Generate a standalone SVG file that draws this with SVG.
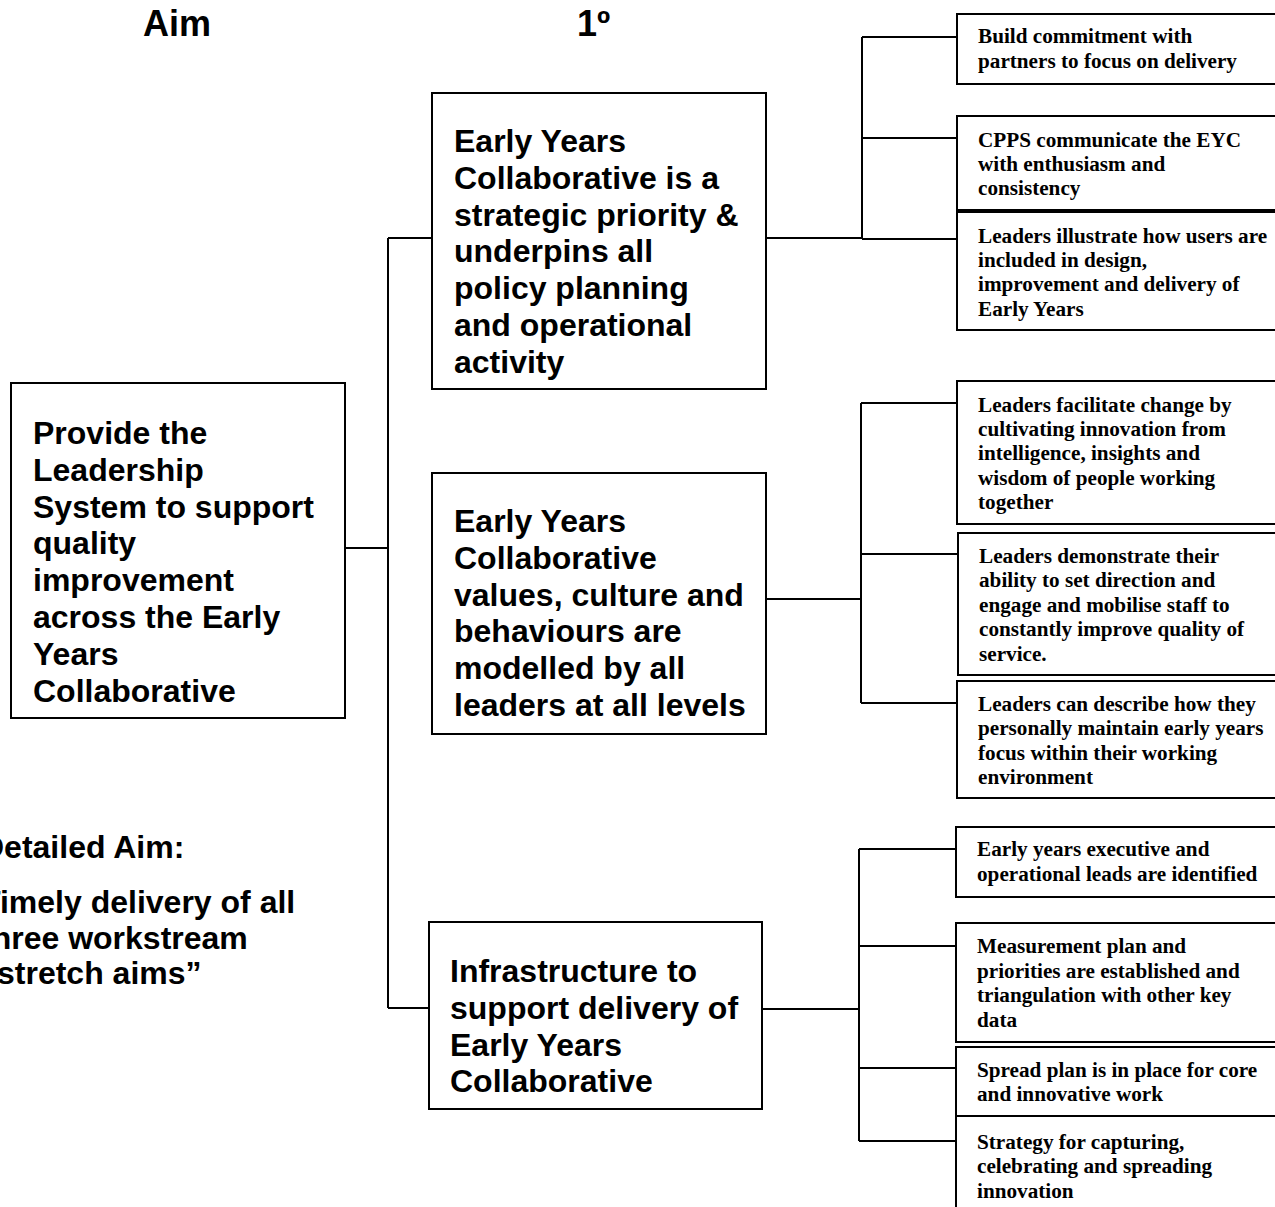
<svg xmlns="http://www.w3.org/2000/svg" width="1275" height="1207" viewBox="0 0 1275 1207">
<style>
.bg{fill:#ffffff}
.box{fill:#ffffff;stroke:#000000;stroke-width:2}
.conn{fill:none;stroke:#000000;stroke-width:2}
.h{font-family:"Liberation Sans",Arial,sans-serif;font-weight:bold;font-size:36px;fill:#000}
.a{font-family:"Liberation Sans",Arial,sans-serif;font-weight:bold;font-size:32px;fill:#000}
.t{font-family:"Liberation Serif","Times New Roman",serif;font-weight:bold;font-size:21.2px;fill:#000}
</style>
<rect class="bg" x="0" y="0" width="1275" height="1207"/>
<g id="headers">
<text class="h" x="143" y="36">Aim</text>
<text class="h" x="577" y="36">1º</text>
</g>
<g id="connectors">
<path class="conn" d="M345 548 H388 M388 238 V1008 M388 238 H432 M388 1008 H429"/>
<path class="conn" d="M766 238 H862 M862 37 V239 M862 37 H957 M862 138 H957 M862 239 H957"/>
<path class="conn" d="M766 599 H861 M861 403 V703 M861 403 H957 M861 554 H958 M861 703 H957"/>
<path class="conn" d="M762 1009 H859 M859 849 V1141 M859 849 H956 M859 946 H956 M859 1068 H956 M859 1141 H956"/>
</g>
<g id="aim">
<rect class="box" x="11" y="383" width="334" height="335"/>
<text class="a" x="33" y="444"><tspan x="33" y="444">Provide the</tspan><tspan x="33" dy="36.8">Leadership</tspan><tspan x="33" dy="36.8">System to support</tspan><tspan x="33" dy="36.8">quality</tspan><tspan x="33" dy="36.8">improvement</tspan><tspan x="33" dy="36.8">across the Early</tspan><tspan x="33" dy="36.8">Years</tspan><tspan x="33" dy="36.8">Collaborative</tspan></text>
</g>
<g id="detailed-aim">
<text class="a" x="-19" y="858"><tspan x="-19" y="858">Detailed Aim:</tspan><tspan x="-19" y="913">Timely delivery of all</tspan><tspan x="-19" dy="35.5">three workstream</tspan><tspan x="-19" dy="35.5">“stretch aims”</tspan></text>
</g>
<g id="p1">
<rect class="box" x="432" y="93" width="334" height="296"/>
<text class="a" x="454" y="152"><tspan x="454" y="152">Early Years</tspan><tspan x="454" dy="36.8">Collaborative is a</tspan><tspan x="454" dy="36.8">strategic priority &amp;</tspan><tspan x="454" dy="36.8">underpins all</tspan><tspan x="454" dy="36.8">policy planning</tspan><tspan x="454" dy="36.8">and operational</tspan><tspan x="454" dy="36.8">activity</tspan></text>
</g>
<g id="p2">
<rect class="box" x="432" y="473" width="334" height="261"/>
<text class="a" x="454" y="532"><tspan x="454" y="532">Early Years</tspan><tspan x="454" dy="36.8">Collaborative</tspan><tspan x="454" dy="36.8">values, culture and</tspan><tspan x="454" dy="36.8">behaviours are</tspan><tspan x="454" dy="36.8">modelled by all</tspan><tspan x="454" dy="36.8">leaders at all levels</tspan></text>
</g>
<g id="p3">
<rect class="box" x="429" y="922" width="333" height="187"/>
<text class="a" x="450" y="982"><tspan x="450" y="982">Infrastructure to</tspan><tspan x="450" dy="36.8">support delivery of</tspan><tspan x="450" dy="36.8">Early Years</tspan><tspan x="450" dy="36.8">Collaborative</tspan></text>
</g>
<g id="s1">
<rect class="box" x="957" y="14" width="330" height="70"/>
<text class="t" x="978" y="43.3"><tspan x="978" y="43.3">Build commitment with</tspan><tspan x="978" dy="25">partners to focus on delivery</tspan></text>
</g>
<g id="s2">
<rect class="box" x="957" y="116" width="330" height="94"/>
<text class="t" x="978" y="146.7"><tspan x="978" y="146.7">CPPS communicate the EYC</tspan><tspan x="978" dy="24.3">with enthusiasm and</tspan><tspan x="978" dy="24.3">consistency</tspan></text>
</g>
<g id="s3">
<rect class="box" x="957" y="212" width="330" height="118"/>
<text class="t" x="978" y="242.7"><tspan x="978" y="242.7">Leaders illustrate how users are</tspan><tspan x="978" dy="24.3">included in design,</tspan><tspan x="978" dy="24.3">improvement and delivery of</tspan><tspan x="978" dy="24.3">Early Years</tspan></text>
</g>
<g id="s4">
<rect class="box" x="957" y="381" width="330" height="143"/>
<text class="t" x="978" y="411.5"><tspan x="978" y="411.5">Leaders facilitate change by</tspan><tspan x="978" dy="24.4">cultivating innovation from</tspan><tspan x="978" dy="24.4">intelligence, insights and</tspan><tspan x="978" dy="24.4">wisdom of people working</tspan><tspan x="978" dy="24.4">together</tspan></text>
</g>
<g id="s5">
<rect class="box" x="958" y="533" width="330" height="142"/>
<text class="t" x="979" y="562.5"><tspan x="979" y="562.5">Leaders demonstrate their</tspan><tspan x="979" dy="24.5">ability to set direction and</tspan><tspan x="979" dy="24.5">engage and mobilise staff to</tspan><tspan x="979" dy="24.5">constantly improve quality of</tspan><tspan x="979" dy="24.5">service.</tspan></text>
</g>
<g id="s6">
<rect class="box" x="957" y="681" width="330" height="117"/>
<text class="t" x="978" y="710.5"><tspan x="978" y="710.5">Leaders can describe how they</tspan><tspan x="978" dy="24.5">personally maintain early years</tspan><tspan x="978" dy="24.5">focus within their working</tspan><tspan x="978" dy="24.5">environment</tspan></text>
</g>
<g id="s7">
<rect class="box" x="956" y="827" width="330" height="70"/>
<text class="t" x="977" y="856"><tspan x="977" y="856">Early years executive and</tspan><tspan x="977" dy="24.5">operational leads are identified</tspan></text>
</g>
<g id="s8">
<rect class="box" x="956" y="923" width="330" height="119"/>
<text class="t" x="977" y="953"><tspan x="977" y="953">Measurement plan and</tspan><tspan x="977" dy="24.5">priorities are established and</tspan><tspan x="977" dy="24.5">triangulation with other key</tspan><tspan x="977" dy="24.5">data</tspan></text>
</g>
<g id="s9">
<rect class="box" x="956" y="1047" width="330" height="69"/>
<text class="t" x="977" y="1076.5"><tspan x="977" y="1076.5">Spread plan is in place for core</tspan><tspan x="977" dy="24.5">and innovative work</tspan></text>
</g>
<g id="s10">
<rect class="box" x="956" y="1116" width="330" height="110"/>
<text class="t" x="977" y="1148.5"><tspan x="977" y="1148.5">Strategy for capturing,</tspan><tspan x="977" dy="24.5">celebrating and spreading</tspan><tspan x="977" dy="24.5">innovation</tspan></text>
</g>
</svg>
